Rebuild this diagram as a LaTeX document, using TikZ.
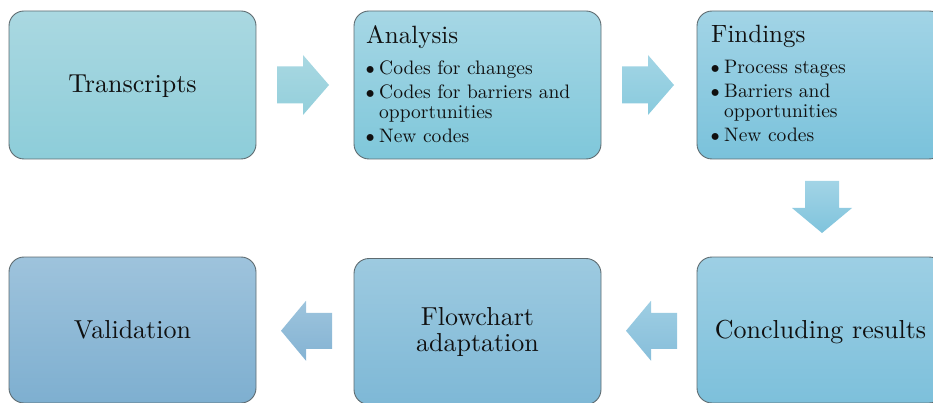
\documentclass[tikz,border=0pt]{standalone}
\usetikzlibrary{calc}

% fills: top / bottom of each gradient
\definecolor{boxline}{HTML}{5E6B70}
\definecolor{ink}{HTML}{101010}
\definecolor{tTop}{HTML}{AAD8E1}\definecolor{tBot}{HTML}{8DCDD9}
\definecolor{aTop}{HTML}{A6D7E5}\definecolor{aBot}{HTML}{7FC7DA}
\definecolor{fTop}{HTML}{A2D4E6}\definecolor{fBot}{HTML}{7AC2DB}
\definecolor{cTop}{HTML}{9DCFE4}\definecolor{cBot}{HTML}{7DC0DB}
\definecolor{wTop}{HTML}{9DCAE0}\definecolor{wBot}{HTML}{7EB8D6}
\definecolor{vTop}{HTML}{9EC3DC}\definecolor{vBot}{HTML}{7EAFD0}
\definecolor{r1Top}{HTML}{A9D8E2}\definecolor{r1Bot}{HTML}{93CFDB}
\definecolor{r2Top}{HTML}{A3D5E5}\definecolor{r2Bot}{HTML}{88CADD}
\definecolor{dTop}{HTML}{A2D4E6}\definecolor{dBot}{HTML}{7FC3DC}
\definecolor{l2Top}{HTML}{9ECEE3}\definecolor{l2Bot}{HTML}{87BEDA}
\definecolor{l1Top}{HTML}{9DC4DD}\definecolor{l1Bot}{HTML}{84B3D3}

% Latin Modern at its 10pt design size, scaled up (sturdier and wider than the 17pt cut)
\font\bigfnt="[lmroman10-regular.otf]" at 26pt
\font\headfnt="[lmroman10-regular.otf]" at 25pt
\font\listfnt="[lmroman10-regular.otf]" at 19.5pt
\font\dotfnt="[lmroman10-regular.otf]" at 24pt
\newcommand\bigtext{\fontsize{26}{26}\selectfont\bigfnt}
\newcommand\headtext{\fontsize{25}{26}\selectfont\headfnt}
\newcommand\listtext{\fontsize{19.5}{20}\selectfont\listfnt}
% bullet centred 4pt in, item text 13pt in
\newcommand\bulletitem[1]{\hbox{\hspace{4pt}\makebox[0pt][c]{\raisebox{-1pt}{\dotfnt\textbullet}}\hspace{9pt}#1}}
\newcommand\carryline[1]{\hbox{\hspace{13pt}#1}}

\tikzset{
  stage/.style={draw=boxline, line width=0.9pt, rounded corners=15pt,
    minimum width=247pt, inner sep=0pt, font=\bigtext, text=ink, align=center},
  toprow/.style={stage, minimum height=148pt},
  botrow/.style={stage, minimum height=146pt},
  oneline/.style={text height=18pt, text depth=2pt},
  label/.style={inner sep=0pt, text=ink},
}

\begin{document}
\begin{tikzpicture}[x=1pt,y=-1pt]
\useasboundingbox (0,0) rectangle (933,403);
\clip (0,0) rectangle (933,403);

% stages
\node[toprow, oneline, top color=tTop, bottom color=tBot] (transcripts) at (132.5,85) {Transcripts};
\node[toprow, top color=aTop, bottom color=aBot] (analysis) at (477.5,85) {};
\node[toprow, top color=fTop, bottom color=fBot] (findings) at (820.5,85) {};
\node[botrow, oneline, top color=vTop, bottom color=vBot] (validation) at (132.5,330) {Validation};
\node[botrow, top color=wTop, bottom color=wBot] (flowchart) at (477.5,331.5) {Flowchart\\adaptation};
\node[botrow, oneline, top color=cTop, bottom color=cBot] (concluding) at (820.5,330) {Concluding results};

% texts of the two list boxes
\node[label, anchor=base west, font=\headtext] (analysisHead) at (366,44) {Analysis};
\node[label, anchor=base west, font=\listtext] (analysisList) at (366,75)
  {\vtop{\bulletitem{Codes for changes}\vskip4pt
         \bulletitem{Codes for barriers and}\carryline{opportunities}\vskip4pt
         \bulletitem{New codes}}};
\node[label, anchor=base west, font=\headtext] (findingsHead) at (711,43) {Findings};
\node[label, anchor=base west, font=\listtext] (findingsList) at (711,74)
  {\vtop{\bulletitem{Process stages}\vskip4pt
         \bulletitem{Barriers and}\carryline{opportunities}\vskip4pt
         \bulletitem{New codes}}};

% block arrows between the stages
\coordinate (r1) at ($(transcripts.east)!0.5!(analysis.west)+(-2,0)$);
\coordinate (r2) at ($(analysis.east)!0.5!(findings.west)+(-1,0)$);
\coordinate (d1) at ($(findings.south)!0.5!(concluding.north)+(1.5,0)$);
\coordinate (l2) at ($(flowchart.east)!0.5!(concluding.west)+(2,0)$);
\coordinate (l1) at ($(validation.east)!0.5!(flowchart.west)+(1,0)$);

\shade[top color=r1Top, bottom color=r1Bot] (r1) ++(-26,-18.5) -- ++(26,0) -- ++(0,-11.5)
  -- ++(26,30) -- ++(-26,30) -- ++(0,-11.5) -- ++(-26,0) -- cycle;
\shade[top color=r2Top, bottom color=r2Bot] (r2) ++(-26,-18.5) -- ++(26,0) -- ++(0,-11.5)
  -- ++(26,30) -- ++(-26,30) -- ++(0,-11.5) -- ++(-26,0) -- cycle;
\shade[top color=dTop, bottom color=dBot] (d1) ++(-17,-27) -- ++(34,0) -- ++(0,27)
  -- ++(13,0) -- ++(-30,25) -- ++(-30,-25) -- ++(13,0) -- cycle;
\shade[top color=l2Top, bottom color=l2Bot] (l2) ++(26,-18) -- ++(-26,0) -- ++(0,-12)
  -- ++(-25,30) -- ++(25,30) -- ++(0,-12) -- ++(26,0) -- cycle;
\shade[top color=l1Top, bottom color=l1Bot] (l1) ++(26,-18) -- ++(-26,0) -- ++(0,-12)
  -- ++(-25,30) -- ++(25,30) -- ++(0,-12) -- ++(26,0) -- cycle;
\end{tikzpicture}
\end{document}
